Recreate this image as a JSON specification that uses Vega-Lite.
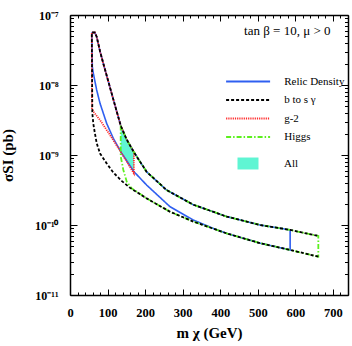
{
  "$schema": "https://vega.github.io/schema/vega-lite/v6.json",
  "width": 278,
  "height": 280,
  "autosize": "none",
  "padding": {"left": 70, "top": 15, "right": 4, "bottom": 51},
  "background": "white",
  "title": {"text": "tan β = 10, μ > 0", "anchor": "end", "orient": "top", "offset": 0, "dy": 29, "dx": -18, "font": "Liberation Serif", "fontSize": 13, "fontWeight": "normal", "color": "black"},
  "datasets": {
    "lines": [
      {"series": "b to s γ", "i": 0, "m": 661, "s": 3.53e-11},
      {"series": "b to s γ", "i": 1, "m": 586, "s": 4.40e-11},
      {"series": "b to s γ", "i": 2, "m": 506, "s": 5.50e-11},
      {"series": "b to s γ", "i": 3, "m": 417, "s": 7.59e-11},
      {"series": "b to s γ", "i": 4, "m": 328, "s": 1.12e-10},
      {"series": "b to s γ", "i": 5, "m": 266, "s": 1.55e-10},
      {"series": "b to s γ", "i": 6, "m": 204, "s": 2.40e-10},
      {"series": "b to s γ", "i": 7, "m": 160, "s": 3.39e-10},
      {"series": "b to s γ", "i": 8, "m": 137.5, "s": 4.27e-10},
      {"series": "b to s γ", "i": 9, "m": 115.3, "s": 5.62e-10},
      {"series": "b to s γ", "i": 10, "m": 97.6, "s": 7.59e-10},
      {"series": "b to s γ", "i": 11, "m": 80, "s": 1.05e-9},
      {"series": "b to s γ", "i": 12, "m": 71, "s": 1.48e-9},
      {"series": "b to s γ", "i": 13, "m": 65, "s": 2.24e-9},
      {"series": "b to s γ", "i": 14, "m": 62, "s": 2.82e-9},
      {"series": "b to s γ", "i": 15, "m": 59.4, "s": 3.98e-9},
      {"series": "b to s γ", "i": 16, "m": 58, "s": 5.62e-8},
      {"series": "b to s γ", "i": 17, "m": 66, "s": 5.62e-8},
      {"series": "b to s γ", "i": 18, "m": 71, "s": 4.90e-8},
      {"series": "b to s γ", "i": 19, "m": 80, "s": 3.02e-8},
      {"series": "b to s γ", "i": 20, "m": 90, "s": 1.91e-8},
      {"series": "b to s γ", "i": 21, "m": 100, "s": 1.23e-8},
      {"series": "b to s γ", "i": 22, "m": 115, "s": 6.31e-9},
      {"series": "b to s γ", "i": 23, "m": 135, "s": 2.63e-9},
      {"series": "b to s γ", "i": 24, "m": 150, "s": 1.70e-9},
      {"series": "b to s γ", "i": 25, "m": 170, "s": 1.10e-9},
      {"series": "b to s γ", "i": 26, "m": 204, "s": 5.75e-10},
      {"series": "b to s γ", "i": 27, "m": 257, "s": 3.16e-10},
      {"series": "b to s γ", "i": 28, "m": 328, "s": 1.95e-10},
      {"series": "b to s γ", "i": 29, "m": 417, "s": 1.32e-10},
      {"series": "b to s γ", "i": 30, "m": 506, "s": 1.00e-10},
      {"series": "b to s γ", "i": 31, "m": 586, "s": 8.51e-11},
      {"series": "b to s γ", "i": 32, "m": 661, "s": 6.97e-11},

      {"series": "Relic Density", "i": 0, "m": 58, "s": 5.62e-8},
      {"series": "Relic Density", "i": 1, "m": 66, "s": 5.62e-8},
      {"series": "Relic Density", "i": 2, "m": 71, "s": 4.90e-8},
      {"series": "Relic Density", "i": 3, "m": 80, "s": 3.02e-8},
      {"series": "Relic Density", "i": 4, "m": 90, "s": 1.91e-8},
      {"series": "Relic Density", "i": 5, "m": 100, "s": 1.23e-8},
      {"series": "Relic Density", "i": 6, "m": 115, "s": 6.31e-9},
      {"series": "Relic Density", "i": 7, "m": 135, "s": 2.63e-9},
      {"series": "Relic Density", "i": 8, "m": 150, "s": 1.70e-9},
      {"series": "Relic Density", "i": 9, "m": 170, "s": 1.10e-9},
      {"series": "Relic Density", "i": 10, "m": 204, "s": 5.75e-10},
      {"series": "Relic Density", "i": 11, "m": 257, "s": 3.16e-10},
      {"series": "Relic Density", "i": 12, "m": 328, "s": 1.95e-10},
      {"series": "Relic Density", "i": 13, "m": 417, "s": 1.32e-10},
      {"series": "Relic Density", "i": 14, "m": 506, "s": 1.00e-10},
      {"series": "Relic Density", "i": 15, "m": 586, "s": 8.51e-11},
      {"series": "Relic Density", "i": 16, "m": 586, "s": 4.40e-11},
      {"series": "Relic Density", "i": 17, "m": 506, "s": 5.50e-11},
      {"series": "Relic Density", "i": 18, "m": 417, "s": 7.59e-11},
      {"series": "Relic Density", "i": 19, "m": 381, "s": 8.95e-11},
      {"series": "Relic Density", "i": 20, "m": 328, "s": 1.18e-10},
      {"series": "Relic Density", "i": 21, "m": 266, "s": 1.83e-10},
      {"series": "Relic Density", "i": 22, "m": 204, "s": 3.72e-10},
      {"series": "Relic Density", "i": 23, "m": 170.2, "s": 5.78e-10},
      {"series": "Relic Density", "i": 24, "m": 137.5, "s": 1.06e-9},
      {"series": "Relic Density", "i": 25, "m": 115.3, "s": 1.73e-9},
      {"series": "Relic Density", "i": 26, "m": 97.6, "s": 2.83e-9},
      {"series": "Relic Density", "i": 27, "m": 79.9, "s": 5.47e-9},
      {"series": "Relic Density", "i": 28, "m": 71, "s": 8.49e-9},
      {"series": "Relic Density", "i": 29, "m": 62.1, "s": 1.47e-8},
      {"series": "Relic Density", "i": 30, "m": 59.4, "s": 1.83e-8},
      {"series": "Relic Density", "i": 31, "m": 58, "s": 5.62e-8},

      {"series": "g-2", "i": 0, "m": 170, "s": 1.10e-9},
      {"series": "g-2", "i": 1, "m": 150, "s": 1.70e-9},
      {"series": "g-2", "i": 2, "m": 135, "s": 2.63e-9},
      {"series": "g-2", "i": 3, "m": 115, "s": 6.31e-9},
      {"series": "g-2", "i": 4, "m": 100, "s": 1.23e-8},
      {"series": "g-2", "i": 5, "m": 90, "s": 1.91e-8},
      {"series": "g-2", "i": 6, "m": 80, "s": 3.02e-8},
      {"series": "g-2", "i": 7, "m": 71, "s": 4.90e-8},
      {"series": "g-2", "i": 8, "m": 66, "s": 5.62e-8},
      {"series": "g-2", "i": 9, "m": 58, "s": 5.62e-8},
      {"series": "g-2", "i": 10, "m": 58.5, "s": 4.65e-9},
      {"series": "g-2", "i": 11, "m": 62.1, "s": 4.16e-9},
      {"series": "g-2", "i": 12, "m": 79.9, "s": 3.16e-9},
      {"series": "g-2", "i": 13, "m": 106.5, "s": 1.93e-9},
      {"series": "g-2", "i": 14, "m": 137.5, "s": 1.06e-9},
      {"series": "g-2", "i": 15, "m": 170, "s": 5.47e-10},
      {"series": "g-2", "i": 16, "m": 170, "s": 1.10e-9},

      {"series": "Higgs", "i": 0, "m": 135, "s": 2.63e-9},
      {"series": "Higgs", "i": 1, "m": 135, "s": 9.55e-10},
      {"series": "Higgs", "i": 2, "m": 142, "s": 6.11e-10},
      {"series": "Higgs", "i": 3, "m": 151, "s": 4.16e-10},
      {"series": "Higgs", "i": 4, "m": 164, "s": 3.34e-10},
      {"series": "Higgs", "i": 5, "m": 204, "s": 2.40e-10},
      {"series": "Higgs", "i": 6, "m": 266, "s": 1.55e-10},
      {"series": "Higgs", "i": 7, "m": 328, "s": 1.12e-10},
      {"series": "Higgs", "i": 8, "m": 417, "s": 7.59e-11},
      {"series": "Higgs", "i": 9, "m": 506, "s": 5.50e-11},
      {"series": "Higgs", "i": 10, "m": 586, "s": 4.40e-11},
      {"series": "Higgs", "i": 11, "m": 661, "s": 3.53e-11},
      {"series": "Higgs", "i": 12, "m": 661, "s": 6.97e-11},
      {"series": "Higgs", "i": 13, "m": 586, "s": 8.51e-11},
      {"series": "Higgs", "i": 14, "m": 506, "s": 1.00e-10},
      {"series": "Higgs", "i": 15, "m": 417, "s": 1.32e-10},
      {"series": "Higgs", "i": 16, "m": 328, "s": 1.95e-10},
      {"series": "Higgs", "i": 17, "m": 257, "s": 3.16e-10},
      {"series": "Higgs", "i": 18, "m": 204, "s": 5.75e-10},
      {"series": "Higgs", "i": 19, "m": 170, "s": 1.10e-9},
      {"series": "Higgs", "i": 20, "m": 150, "s": 1.70e-9},
      {"series": "Higgs", "i": 21, "m": 135, "s": 2.63e-9}
    ],
    "all": [
      {"series": "All", "m": 135, "lo": 1.12e-9, "hi": 2.63e-9},
      {"series": "All", "m": 150, "lo": 8.39e-10, "hi": 1.70e-9},
      {"series": "All", "m": 170, "lo": 5.47e-10, "hi": 1.10e-9}
    ]
  },
  "config": {
    "view": {"stroke": null},
    "axis": {
      "domainColor": "black", "domainWidth": 1.5, "tickColor": "black", "tickWidth": 1,
      "labelFont": "Liberation Serif", "labelFontWeight": "bold", "labelFontSize": 12.5, "labelColor": "black",
      "titleFont": "Liberation Serif", "titleFontWeight": "bold", "titleFontSize": 15, "titleColor": "black",
      "grid": false
    }
  },
  "resolve": {"axis": {"x": "independent", "y": "independent"}},
  "layer": [
    {
      "data": {"name": "all"},
      "mark": {"type": "area", "opacity": 1, "interpolate": "linear"},
      "encoding": {
        "x": {"field": "m", "type": "quantitative", "scale": {"domain": [0, 740], "nice": false},
          "axis": {"title": "m χ  (GeV)", "values": [0, 100, 200, 300, 400, 500, 600, 700],
            "ticks": false, "labelPadding": 11, "titlePadding": 7, "labelFlush": false, "labelOverlap": false}},
        "y": {"field": "lo", "type": "quantitative", "scale": {"type": "log", "domain": [1e-11, 1e-7], "nice": false},
          "axis": {"title": "σSI (pb)", "values": [1e-11, 1e-10, 1e-9, 1e-8, 1e-7],
            "labelExpr": "abs(log(datum.value)/LN10 + 7) < 0.01 ? '10⁻⁷' : abs(log(datum.value)/LN10 + 8) < 0.01 ? '10⁻⁸' : abs(log(datum.value)/LN10 + 9) < 0.01 ? '10⁻⁹' : abs(log(datum.value)/LN10 + 10) < 0.01 ? '10⁻¹⁰' : '10⁻¹¹'",
            "labelFontSize": 12, "ticks": false, "labelPadding": 12, "titlePadding": 19, "labelOverlap": false, "labelFlush": false}},
        "y2": {"field": "hi"},
        "fill": {"field": "series", "type": "nominal",
          "scale": {"domain": ["All"], "range": ["#5ff5d3"]},
          "legend": {"title": null, "orient": "none", "legendX": 167.5, "legendY": 138, "symbolType": "M-1,-0.57H1V0.57H-1Z", "symbolSize": 441, "symbolStrokeWidth": 0,
            "labelFont": "Liberation Serif", "labelFontSize": 11, "labelColor": "black", "labelOffset": 25.5}}
      }
    },
    {
      "data": {"name": "lines"},
      "transform": [{"filter": "datum.series === 'Relic Density'"}],
      "mark": {"type": "line", "strokeWidth": 1.6},
      "encoding": {
        "x": {"field": "m", "type": "quantitative", "axis": null},
        "y": {"field": "s", "type": "quantitative", "axis": null},
        "order": {"field": "i"},
        "color": {"field": "series", "type": "nominal",
          "scale": {"domain": ["Relic Density", "b to s γ", "g-2", "Higgs"], "range": ["#2f5ff0", "#000000", "#ff2a2a", "#5cf01e"]},
          "legend": {"title": null, "orient": "none", "legendX": 171.6, "legendY": 60, "symbolType": "M-4,0H4", "symbolSize": 121, "symbolStrokeWidth": 1.8,
            "labelFont": "Liberation Serif", "labelFontSize": 11, "labelColor": "black", "labelOffset": 29.6, "rowPadding": 6.5}},
        "strokeDash": {"field": "series", "type": "nominal", "scale": {"domain": ["Relic Density", "b to s γ", "g-2", "Higgs"], "range": [[1, 0], [3, 2], [1.2, 1], [5, 2, 1.5, 2]]},
          "legend": {"title": null, "orient": "none", "legendX": 171.6, "legendY": 60, "symbolType": "M-4,0H4", "symbolSize": 121, "symbolStrokeWidth": 1.8,
            "labelFont": "Liberation Serif", "labelFontSize": 11, "labelColor": "black", "labelOffset": 29.6, "rowPadding": 6.5}}
      }
    },
    {
      "data": {"name": "lines"},
      "transform": [{"filter": "datum.series === 'g-2'"}],
      "mark": {"type": "line", "strokeWidth": 1.8},
      "encoding": {
        "x": {"field": "m", "type": "quantitative", "axis": null},
        "y": {"field": "s", "type": "quantitative", "axis": null},
        "order": {"field": "i"},
        "color": {"field": "series", "type": "nominal"},
        "strokeDash": {"field": "series", "type": "nominal"}
      }
    },
    {
      "data": {"name": "lines"},
      "transform": [{"filter": "datum.series === 'Higgs'"}],
      "mark": {"type": "line", "strokeWidth": 1.8},
      "encoding": {
        "x": {"field": "m", "type": "quantitative",
          "axis": {"orient": "bottom", "title": null, "labels": false, "domain": false, "values": [0,20,40,60,80,100,120,140,160,180,200,220,240,260,280,300,320,340,360,380,400,420,440,460,480,500,520,540,560,580,600,620,640,660,680,700,720,740],
            "tickSize": {"condition": {"test": "datum.value % 100 == 0", "value": -6}, "value": -3}}},
        "y": {"field": "s", "type": "quantitative",
          "axis": {"orient": "left", "title": null, "labels": false, "domain": false, "values": [1e-11,2e-11,3e-11,4e-11,5e-11,6e-11,7e-11,8e-11,9e-11,1e-10,2e-10,3e-10,4e-10,5e-10,6e-10,7e-10,8e-10,9e-10,1e-9,2e-9,3e-9,4e-9,5e-9,6e-9,7e-9,8e-9,9e-9,1e-8,2e-8,3e-8,4e-8,5e-8,6e-8,7e-8,8e-8,9e-8,1e-7],
            "tickSize": {"condition": {"test": "abs(log(datum.value)/LN10 - round(log(datum.value)/LN10)) < 0.01", "value": -7}, "value": -3.5}}},
        "order": {"field": "i"},
        "color": {"field": "series", "type": "nominal"},
        "strokeDash": {"field": "series", "type": "nominal"}
      }
    },
    {
      "data": {"name": "lines"},
      "transform": [{"filter": "datum.series === 'b to s γ'"}],
      "mark": {"type": "line", "strokeWidth": 1.8},
      "encoding": {
        "x": {"field": "m", "type": "quantitative",
          "axis": {"orient": "top", "title": null, "labels": false, "values": [0,20,40,60,80,100,120,140,160,180,200,220,240,260,280,300,320,340,360,380,400,420,440,460,480,500,520,540,560,580,600,620,640,660,680,700,720,740],
            "tickSize": {"condition": {"test": "datum.value % 100 == 0", "value": -6}, "value": -3}}},
        "y": {"field": "s", "type": "quantitative",
          "axis": {"orient": "right", "title": null, "labels": false, "values": [1e-11,2e-11,3e-11,4e-11,5e-11,6e-11,7e-11,8e-11,9e-11,1e-10,2e-10,3e-10,4e-10,5e-10,6e-10,7e-10,8e-10,9e-10,1e-9,2e-9,3e-9,4e-9,5e-9,6e-9,7e-9,8e-9,9e-9,1e-8,2e-8,3e-8,4e-8,5e-8,6e-8,7e-8,8e-8,9e-8,1e-7],
            "tickSize": {"condition": {"test": "abs(log(datum.value)/LN10 - round(log(datum.value)/LN10)) < 0.01", "value": -7}, "value": -3.5}}},
        "order": {"field": "i"},
        "color": {"field": "series", "type": "nominal"},
        "strokeDash": {"field": "series", "type": "nominal"}
      }
    }
  ]
}
